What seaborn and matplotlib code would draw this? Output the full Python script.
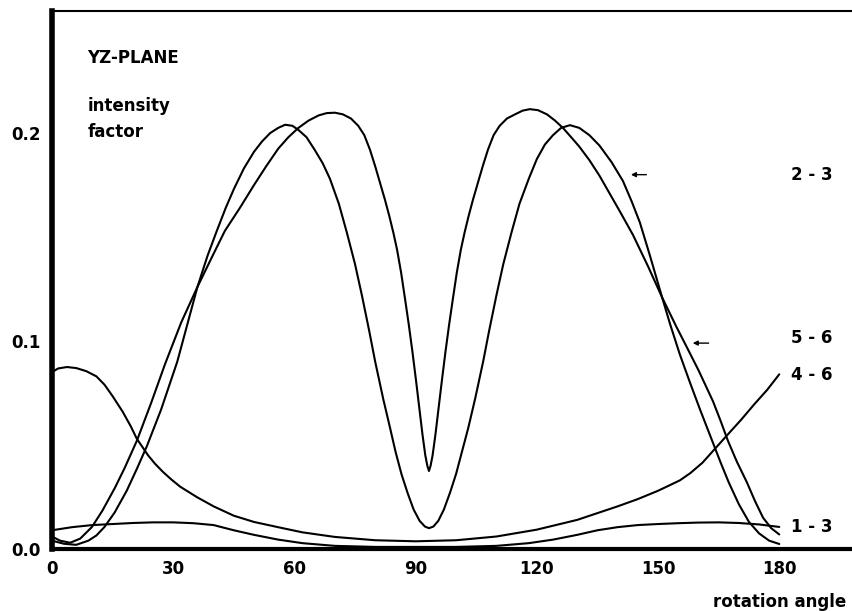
import numpy as np
import pandas as pd
import matplotlib
matplotlib.use('Agg')
import matplotlib.pyplot as plt
import seaborn as sns

# Values (rotation angle in degrees, intensity factor)
angle_23 = [0, 3, 6, 9, 11, 13, 15.5, 18.5, 21, 23.5, 27, 31, 33.5, 36, 38.5, 40.8, 43, 45,
            47.5, 50, 52, 54, 56, 57.7, 59.5, 61, 63, 65, 67, 68.8, 71, 73, 75, 76.7, 78.5,
            80, 82, 83.7, 85, 86.5, 88, 89.5, 91, 92.3, 93.3, 94.4, 95.6, 97, 98.5, 100,
            101.5, 103, 104.7, 106.7, 108.2, 110, 111.7, 113.7, 115.7, 118, 120, 122, 124,
            126, 128.2, 130.5, 133, 135.5, 138.5, 141.3, 143.5, 145.5, 148, 151, 153, 155.4,
            158, 160.4, 163.4, 165.5, 167.5, 170, 172.5, 175, 177.5, 180]
int_23 = [0.004, 0.0025, 0.002, 0.004, 0.0065, 0.0106, 0.0175, 0.028, 0.0385, 0.0495, 0.067,
          0.090, 0.108, 0.126, 0.141, 0.153, 0.164, 0.173, 0.183, 0.191, 0.196, 0.200,
          0.2025, 0.204, 0.2035, 0.2015, 0.198, 0.192, 0.1855, 0.178, 0.166, 0.152, 0.137,
          0.122, 0.105, 0.090, 0.072, 0.058, 0.047, 0.036, 0.027, 0.019, 0.0135, 0.0108,
          0.010, 0.0108, 0.0135, 0.019, 0.027, 0.036, 0.047, 0.058, 0.072, 0.090, 0.105,
          0.122, 0.137, 0.152, 0.166, 0.178, 0.1875, 0.1945, 0.199, 0.2025, 0.2038, 0.2025,
          0.199, 0.194, 0.186, 0.177, 0.167, 0.157, 0.141, 0.121, 0.108, 0.0935, 0.0795,
          0.067, 0.052, 0.0415, 0.032, 0.0215, 0.013, 0.0075, 0.004, 0.0024]

angle_56 = [0, 2, 4.5, 7, 9.9, 12.5, 15.6, 18, 21, 24.5, 28, 32, 36, 39.5, 42.8, 46.5, 50,
            53, 56, 58.5, 61, 63.5, 66, 68, 70, 72, 74, 75.8, 77.3, 78.7, 80, 81.2, 82.4,
            83.5, 84.5, 85.4, 86.4, 87.4, 88.3, 89.2, 90.1, 90.9, 91.7, 92.4, 92.9, 93.3,
            93.7, 94.2, 94.9, 95.7, 96.5, 97.4, 98.3, 99.2, 100.2, 101.2, 102.1, 103.1,
            104.2, 105.4, 106.6, 107.9, 109.3, 110.8, 112.6, 114.6, 116.5, 118.3, 120.3,
            122.5, 124.5, 126.5, 128.5, 130.5, 133, 135.5, 138, 140.5, 143.8, 147.5, 151,
            154.5, 157, 160, 163.6, 165.5, 167.3, 169.5, 172, 174, 176, 178, 180]
int_56 = [0.006, 0.004, 0.003, 0.005, 0.0106, 0.0185, 0.0295, 0.039, 0.052, 0.070, 0.089,
          0.109, 0.126, 0.140, 0.153, 0.164, 0.175, 0.184, 0.1925, 0.198, 0.2025, 0.206,
          0.2085, 0.2096, 0.2098, 0.209, 0.207, 0.2035, 0.199, 0.192, 0.184, 0.176, 0.168,
          0.160, 0.152, 0.144, 0.133, 0.120, 0.108, 0.095, 0.081, 0.068, 0.055, 0.045,
          0.040, 0.0375, 0.040, 0.045, 0.055, 0.068, 0.081, 0.095, 0.108, 0.120, 0.133,
          0.144, 0.152, 0.160, 0.168, 0.176, 0.184, 0.192, 0.199, 0.2035, 0.207, 0.209,
          0.2108, 0.2115, 0.211, 0.209, 0.206, 0.2024, 0.198, 0.1935, 0.187, 0.1795, 0.171,
          0.1625, 0.151, 0.136, 0.121, 0.107, 0.0975, 0.086, 0.071, 0.0615, 0.052, 0.042,
          0.032, 0.023, 0.015, 0.010, 0.007]

angle_46 = [0, 1.5, 3.7, 6, 8.5, 11, 13, 15, 17.5, 19.5, 21, 23.8, 25.5, 27.5, 29.5, 31.7,
            34, 36, 40, 45, 50, 56.4, 62, 70, 80, 90, 100, 110, 120, 130, 140, 145, 150,
            152.5, 155.4, 158, 161, 164, 167, 170.5, 174, 177, 180]
int_46 = [0.085, 0.0868, 0.0875, 0.087, 0.0855, 0.083, 0.079, 0.0735, 0.066, 0.059, 0.053,
          0.045, 0.041, 0.037, 0.0335, 0.030, 0.0272, 0.0248, 0.0205, 0.016, 0.013, 0.0103,
          0.008, 0.0058, 0.0042, 0.0037, 0.0042, 0.006, 0.0093, 0.014, 0.0205, 0.024,
          0.028, 0.0303, 0.033, 0.0365, 0.0415, 0.048, 0.0545, 0.062, 0.070, 0.0765, 0.084]

angle_13 = [0, 5, 10, 15, 20, 25, 30, 35, 40, 45, 50, 56, 62, 70, 80, 90, 100, 110, 118,
            124, 130, 135, 140, 145, 150, 155, 160, 165, 170, 175, 180]
int_13 = [0.009, 0.0105, 0.0115, 0.012, 0.0125, 0.0128, 0.0128, 0.0124, 0.0115, 0.009,
          0.0068, 0.0045, 0.0028, 0.0015, 0.001, 0.001, 0.001, 0.0015, 0.0028, 0.0045,
          0.0068, 0.009, 0.0105, 0.0115, 0.012, 0.0124, 0.0127, 0.0128, 0.0125, 0.0118, 0.0106]

x_ticks = [0, 30, 60, 90, 120, 150, 180]
y_ticks = [0.0, 0.1, 0.2]
curve_labels = ['2 - 3', '5 - 6', '4 - 6', '1 - 3']
label_levels = [0.180, 0.1015, 0.0837, 0.0106]

sns.set_style('white')
plt.rcParams['font.family'] = ['DejaVu Sans']
plt.rcParams['font.weight'] = 'bold'
plt.rcParams['text.color'] = 'black'
plt.rcParams['xtick.color'] = 'black'
plt.rcParams['ytick.color'] = 'black'

fig = plt.figure(figsize=(8.52, 6.11), dpi=100)
ax = fig.add_axes([0.061, 0.1015, 0.939, 0.8805])

for xs, ys in [(angle_23, int_23), (angle_56, int_56), (angle_46, int_46), (angle_13, int_13)]:
    df = pd.DataFrame({'angle': xs, 'intensity': ys})
    sns.lineplot(data=df, x='angle', y='intensity', ax=ax, color='black', lw=1.5,
                 estimator=None, sort=False)

ax.set_xlim(0, 198)
ax.set_ylim(0, 0.2587)
ax.set_xticks(x_ticks)
ax.set_yticks(y_ticks)
ax.set_yticklabels([f'{v:.1f}' for v in y_ticks])
ax.set_xlabel('')
ax.set_ylabel('')
ax.tick_params(direction='in', length=6, width=1.5, labelsize=12, pad=8)

ax.spines['right'].set_visible(False)
ax.spines['left'].set_linewidth(4)
ax.spines['bottom'].set_linewidth(3)
ax.spines['top'].set_linewidth(1.5)
for s in ax.spines.values():
    s.set_color('black')

# curve labels on the right
for lab, lev in zip(curve_labels, label_levels):
    ax.text(183, lev, lab, fontsize=12, va='center', ha='left')

# arrows pointing at 2-3 and 5-6
ax.annotate('', xy=(142.6, 0.180), xytext=(147.8, 0.180),
            arrowprops=dict(arrowstyle='-|>', color='black', lw=1, mutation_scale=7))
ax.annotate('', xy=(157.9, 0.099), xytext=(163.2, 0.099),
            arrowprops=dict(arrowstyle='-|>', color='black', lw=1, mutation_scale=7))

ax.text(8.7, 0.236, 'YZ-PLANE', fontsize=12, va='center', ha='left')
ax.text(8.9, 0.213, 'intensity', fontsize=12, va='center', ha='left')
ax.text(8.9, 0.2005, 'factor', fontsize=12, va='center', ha='left')
ax.text(196.5, -0.0255, 'rotation angle', fontsize=12, va='center', ha='right', clip_on=False)

fig.savefig('out.png', dpi=100)
